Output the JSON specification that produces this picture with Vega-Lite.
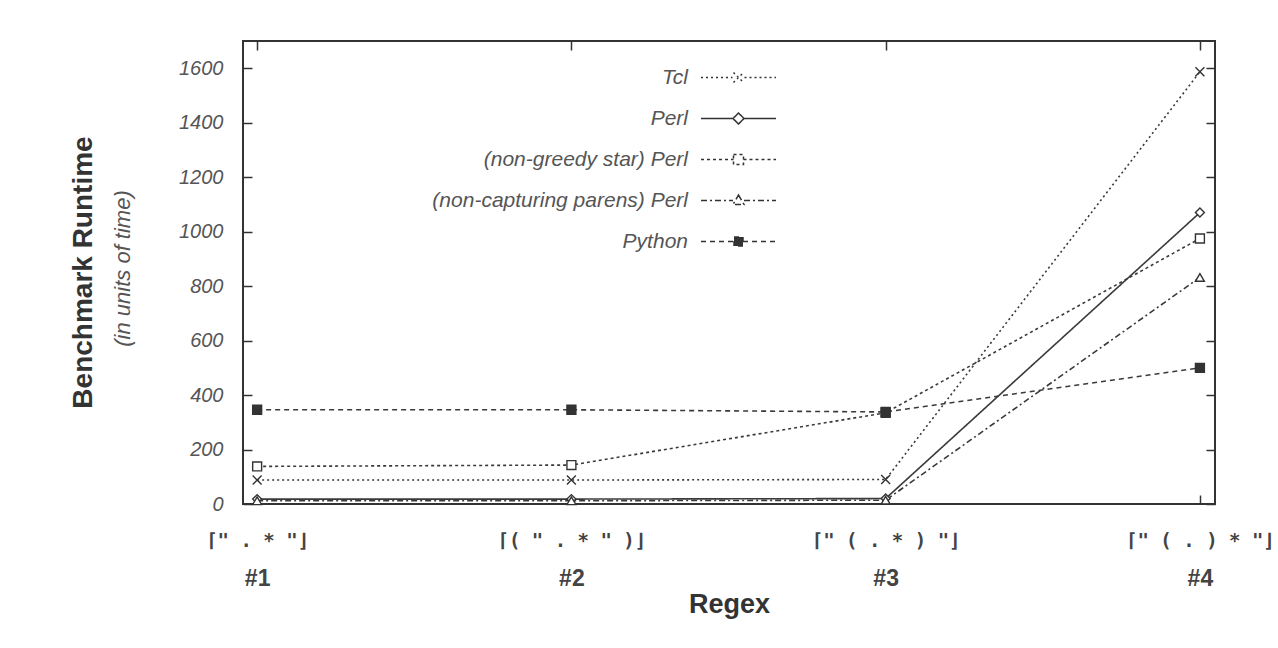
{
  "$schema": "https://vega.github.io/schema/vega-lite/v6.json",
  "width": 972,
  "height": 463,
  "autosize": {"type": "none"},
  "padding": {"left": 243, "top": 41, "right": 63, "bottom": 144},
  "background": "white",
  "config": {
    "font": "Liberation Sans",
    "view": {"stroke": "#333", "strokeWidth": 2},
    "axis": {"grid": false, "domain": false},
    "point": {"filled": true, "stroke": "#333", "strokeWidth": 1.4, "size": 80, "opacity": 1, "fill": "white"}
  },
  "data": {
    "values": [
      {"series": "Tcl", "idx": 1, "runtime": 88},
      {"series": "Tcl", "idx": 2, "runtime": 88},
      {"series": "Tcl", "idx": 3, "runtime": 90},
      {"series": "Tcl", "idx": 4, "runtime": 1587},
      {"series": "Perl", "idx": 1, "runtime": 18},
      {"series": "Perl", "idx": 2, "runtime": 18},
      {"series": "Perl", "idx": 3, "runtime": 20},
      {"series": "Perl", "idx": 4, "runtime": 1070},
      {"series": "(non-greedy star) Perl", "idx": 1, "runtime": 138},
      {"series": "(non-greedy star) Perl", "idx": 2, "runtime": 143},
      {"series": "(non-greedy star) Perl", "idx": 3, "runtime": 335},
      {"series": "(non-greedy star) Perl", "idx": 4, "runtime": 975},
      {"series": "(non-capturing parens) Perl", "idx": 1, "runtime": 12},
      {"series": "(non-capturing parens) Perl", "idx": 2, "runtime": 12},
      {"series": "(non-capturing parens) Perl", "idx": 3, "runtime": 14},
      {"series": "(non-capturing parens) Perl", "idx": 4, "runtime": 832},
      {"series": "Python", "idx": 1, "runtime": 346},
      {"series": "Python", "idx": 2, "runtime": 346},
      {"series": "Python", "idx": 3, "runtime": 338},
      {"series": "Python", "idx": 4, "runtime": 500}
    ]
  },
  "resolve": {"axis": {"x": "independent", "y": "independent"}},
  "layer": [
    {
      "mark": {"type": "line", "color": "#3a3a3a", "strokeWidth": 1.6},
      "encoding": {
        "x": {
          "field": "idx", "type": "quantitative",
          "scale": {"domain": [0.955, 4.048], "nice": false, "zero": false},
          "axis": {
            "orient": "bottom", "title": null, "values": [1, 2, 3, 4],
            "ticks": false, "labelFlush": false,
            "labelExpr": "['⌈\" . * \"⌋', '⌈( \" . * \" )⌋', '⌈\" ( . * ) \"⌋', '⌈\" ( . ) * \"⌋'][datum.value - 1]",
            "labelFont": "DejaVu Sans Mono", "labelFontWeight": "bold", "labelFontSize": 19,
            "labelColor": "#444", "labelBaseline": "middle", "labelPadding": 36
          }
        },
        "y": {
          "field": "runtime", "type": "quantitative",
          "scale": {"domain": [0, 1700], "nice": false},
          "axis": {
            "orient": "left", "values": [0, 200, 400, 600, 800, 1000, 1200, 1400, 1600],
            "format": "d",
            "ticks": false, "labelFlush": false,
            "labelFont": "Liberation Sans", "labelFontStyle": "italic", "labelFontSize": 20,
            "labelColor": "#555", "labelPadding": 20,
            "title": "(in units of time)",
            "titleFont": "Liberation Sans", "titleFontStyle": "italic", "titleFontWeight": "normal",
            "titleFontSize": 22, "titleColor": "#555", "titleBaseline": "alphabetic",
            "titleX": -114, "titleY": 227
          }
        },
        "strokeDash": {
          "field": "series", "type": "nominal",
          "scale": {
            "domain": ["Tcl", "Perl", "(non-greedy star) Perl", "(non-capturing parens) Perl", "Python"],
            "range": [[2, 3], [1, 0], [3, 3], [6, 3, 2, 3], [5, 4]]
          },
          "legend": {
            "title": null, "orient": "none", "legendX": 485, "legendY": 26, "padding": 0,
            "symbolSize": 100, "symbolStrokeWidth": 1.5, "symbolStrokeColor": "#333",
            "labelFont": "Liberation Sans", "labelFontStyle": "italic", "labelFontSize": 21,
            "labelColor": "#555", "labelAlign": "right", "labelOffset": -61, "labelLimit": 500,
            "rowPadding": 19,
            "encode": {
              "symbols": {
                "update": {
                  "size": {"value": 100},
                  "shape": {"signal": "datum.value === 'Tcl' ? 'M-7.5,0L-1.2,0M1.2,0L7.5,0M-1,-1L1,1M-1,1L1,-1' : datum.value === 'Perl' ? 'M-7.5,0L-1.1,0M1.1,0L7.5,0M0,-1.1L1.1,0L0,1.1L-1.1,0Z' : datum.value === 'Python' ? 'M-7.5,0L-0.9,0M0.9,0L7.5,0M-0.9,-0.9L0.9,-0.9L0.9,0.9L-0.9,0.9Z' : datum.value === '(non-greedy star) Perl' ? 'M-7.5,0L-1,0M1,0L7.5,0M-1,-1L1,-1L1,1L-1,1Z' : 'M-7.5,0L-1.1,0M1.1,0L7.5,0M0,-1.1L1.1,0.8L-1.1,0.8Z'"},
                  "fill": {"signal": "datum.value === 'Python' ? '#333' : 'white'"},
                  "stroke": {"value": "#333"}
                }
              }
            }
          }
        }
      }
    },
    {
      "transform": [{"filter": "datum.series === 'Tcl'"}],
      "mark": {"type": "point", "shape": "M-1,-1L1,1M-1,1L1,-1"},
      "encoding": {
        "x": {"field": "idx", "type": "quantitative", "axis": null},
        "y": {"field": "runtime", "type": "quantitative", "axis": null}
      }
    },
    {
      "transform": [{"filter": "datum.series === 'Perl'"}],
      "mark": {"type": "point", "shape": "diamond"},
      "encoding": {
        "x": {"field": "idx", "type": "quantitative", "axis": null},
        "y": {"field": "runtime", "type": "quantitative", "axis": null}
      }
    },
    {
      "transform": [{"filter": "datum.series === '(non-greedy star) Perl'"}],
      "mark": {"type": "point", "shape": "square"},
      "encoding": {
        "x": {"field": "idx", "type": "quantitative", "axis": null},
        "y": {"field": "runtime", "type": "quantitative", "axis": null}
      }
    },
    {
      "transform": [{"filter": "datum.series === '(non-capturing parens) Perl'"}],
      "mark": {"type": "point", "shape": "triangle-up"},
      "encoding": {
        "x": {"field": "idx", "type": "quantitative", "axis": null},
        "y": {"field": "runtime", "type": "quantitative", "axis": null}
      }
    },
    {
      "transform": [{"filter": "datum.series === 'Python'"}],
      "mark": {"type": "point", "shape": "square", "fill": "#333"},
      "encoding": {
        "x": {
          "field": "idx", "type": "quantitative",
          "axis": {
            "orient": "bottom", "values": [1, 2, 3, 4], "ticks": false, "labelFlush": false,
            "labelExpr": "'#' + datum.value",
            "labelFont": "Liberation Sans", "labelFontWeight": "bold", "labelFontSize": 23,
            "labelColor": "#444", "labelBaseline": "alphabetic", "labelPadding": 81,
            "title": "Regex",
            "titleFont": "Liberation Sans", "titleFontWeight": "bold", "titleFontSize": 27,
            "titleColor": "#333", "titleBaseline": "alphabetic", "titleY": 108
          }
        },
        "y": {
          "field": "runtime", "type": "quantitative",
          "axis": {
            "orient": "left", "values": [0, 200, 400, 600, 800, 1000, 1200, 1400, 1600],
            "labels": false, "ticks": true, "tickSize": -9, "tickWidth": 1.5, "tickColor": "#333",
            "title": "Benchmark  Runtime",
            "titleFont": "Liberation Sans", "titleFontWeight": "bold", "titleFontSize": 28,
            "titleColor": "#333", "titleBaseline": "alphabetic",
            "titleX": -152, "titleY": 231
          }
        }
      }
    },
    {
      "mark": {"type": "point", "opacity": 0},
      "encoding": {
        "x": {
          "field": "idx", "type": "quantitative",
          "axis": {
            "orient": "top", "values": [1, 2, 3, 4], "labels": false, "title": null,
            "ticks": true, "tickSize": -9, "tickWidth": 1.5, "tickColor": "#333"
          }
        },
        "y": {
          "field": "runtime", "type": "quantitative",
          "axis": {
            "orient": "right", "values": [0, 200, 400, 600, 800, 1000, 1200, 1400, 1600],
            "labels": false, "title": null,
            "ticks": true, "tickSize": -9, "tickWidth": 1.5, "tickColor": "#333"
          }
        }
      }
    },
    {
      "mark": {"type": "point", "opacity": 0},
      "encoding": {
        "x": {
          "field": "idx", "type": "quantitative",
          "axis": {
            "orient": "bottom", "values": [1, 2, 3, 4], "labels": false, "title": null,
            "ticks": true, "tickSize": -9, "tickWidth": 1.5, "tickColor": "#333"
          }
        },
        "y": {"field": "runtime", "type": "quantitative", "axis": null}
      }
    }
  ]
}
